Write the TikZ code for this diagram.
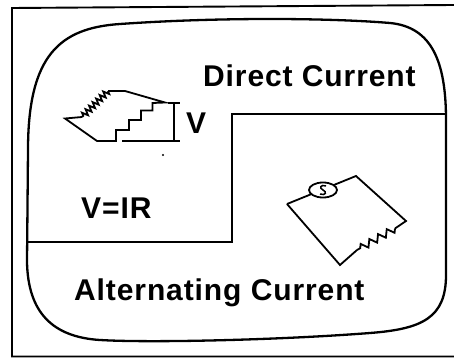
\documentclass[tikz,border=0pt]{standalone}
\usepackage{fontspec}
\newfontfamily\labelfont[LetterSpace=3]{Liberation Sans}
\usepackage{tikz}
\usetikzlibrary{decorations.pathmorphing, positioning, shapes.geometric}
\tikzstyle{wire} = [line width=1.8pt, line join=miter]
\tikzstyle{tvScreen} = [line width=2.3pt]
\tikzstyle{frameLine} = [line width=1.9pt]
\tikzstyle{resistor} = [decorate, decoration={zigzag, segment length=5pt, amplitude=3pt}]
\tikzstyle{resistorAC} = [decorate, decoration={zigzag, segment length=10pt, amplitude=3.5pt}]
\tikzstyle{caption} = [inner sep=0, font=\labelfont\bfseries\fontsize{30}{33}\selectfont]

\begin{document}
\begin{tikzpicture}[x=1pt, y=-1pt]
		\useasboundingbox (0,0) rectangle (454,358);
		% Rahmen (rechte Seite offen)
		\coordinate (fTR) at (454,5);
		\coordinate (fTL) at (12,8);
		\coordinate (fBL) at (12,356.5);
		\coordinate (fBR) at (454,356.5);
		\draw[frameLine] (fTR) -- (fTL) -- (fBL) -- (fBR);
		
		% Bildschirm
		\draw[tvScreen] (27,262) -- (28,150) .. controls (28,55) and (60,28) .. (120,24)
			.. controls (220,17) and (330,18) .. (390,23)
			.. controls (432,27) and (446,62) .. (446,120) -- (446,275)
			.. controls (446,318) and (422,329) .. (370,333)
			.. controls (280,340) and (150,343) .. (100,340)
			.. controls (52,337) and (28,312) .. (27,262) -- cycle;
		
		% Trennlinie DC / AC
		\coordinate (divL) at (27,242);
		\coordinate (divM1) at (232,242);
		\coordinate (divM2) at (232,114);
		\coordinate (divR) at (446,114);
		\draw[wire] (divL) -- (divM1) -- (divM2) -- (divR);
		
		% Beschriftungen
		\node[caption, anchor=base west] (dc) at (203,87) {Direct Current};
		\node[caption, anchor=base west] (ac) at (74,300) {Alternating Current};
		\node[caption, anchor=base west] (ohm) at (81,218) {V\kern1pt=\kern1pt IR};
		\node[caption, anchor=base west] (volt) at (186,133) {V};
		
		% Gleichstromkreis mit Treppe
		\coordinate (dcTip) at (65,118.5);
		\coordinate (rTop) at (108,91);
		\coordinate (rBot) at (82,117);
		\coordinate (dcTop) at (125,91);
		\coordinate (dcRight) at (165,102.5);
		\coordinate (dcBot) at (97,141);
		\draw[wire] (dcTop) -- (rTop);
		\draw[wire, resistor] (rTop) -- (rBot);
		\draw[wire] (rBot) -- (dcTip) -- (dcBot) -- (116,141)
			-- (116,130) -- (129,130) -- (129,120) -- (141,120) -- (141,110.5)
			-- (152.5,110.5) -- (152.5,103) -- (dcRight) -- (dcTop);
		% Spannungsmarke V
		\draw[wire] (168,103) -- (180,103);
		\draw[wire] (174,103) -- (174,141);
		\draw[wire] (122,141) -- (180,141);
		\fill (163,155) circle (1.1);
		
		% Wechselstromkreis
		\coordinate (acL) at (287,204);
		\coordinate (acT) at (356,176);
		\coordinate (acR) at (406,221);
		\coordinate (acB) at (340,265);
		\coordinate (zzA) at (395,228.5);
		\coordinate (zzB) at (357,250);
		\draw[wire] (acL) -- (acT) -- (acR) -- (zzA);
		\draw[wire, resistorAC] (zzA) -- (zzB);
		\draw[wire] (zzB) -- (acB) -- (acL);
		\node[draw, wire, fill=white, ellipse, minimum width=28pt, minimum height=15pt, inner sep=0] (src) at (323,190) {};
		\draw[line width=1.5pt] (326,186) .. controls (321,184) and (318.5,188) .. (323,190)
			.. controls (327.5,192) and (325.5,196) .. (320,194);
		\end{tikzpicture}
\end{document}
